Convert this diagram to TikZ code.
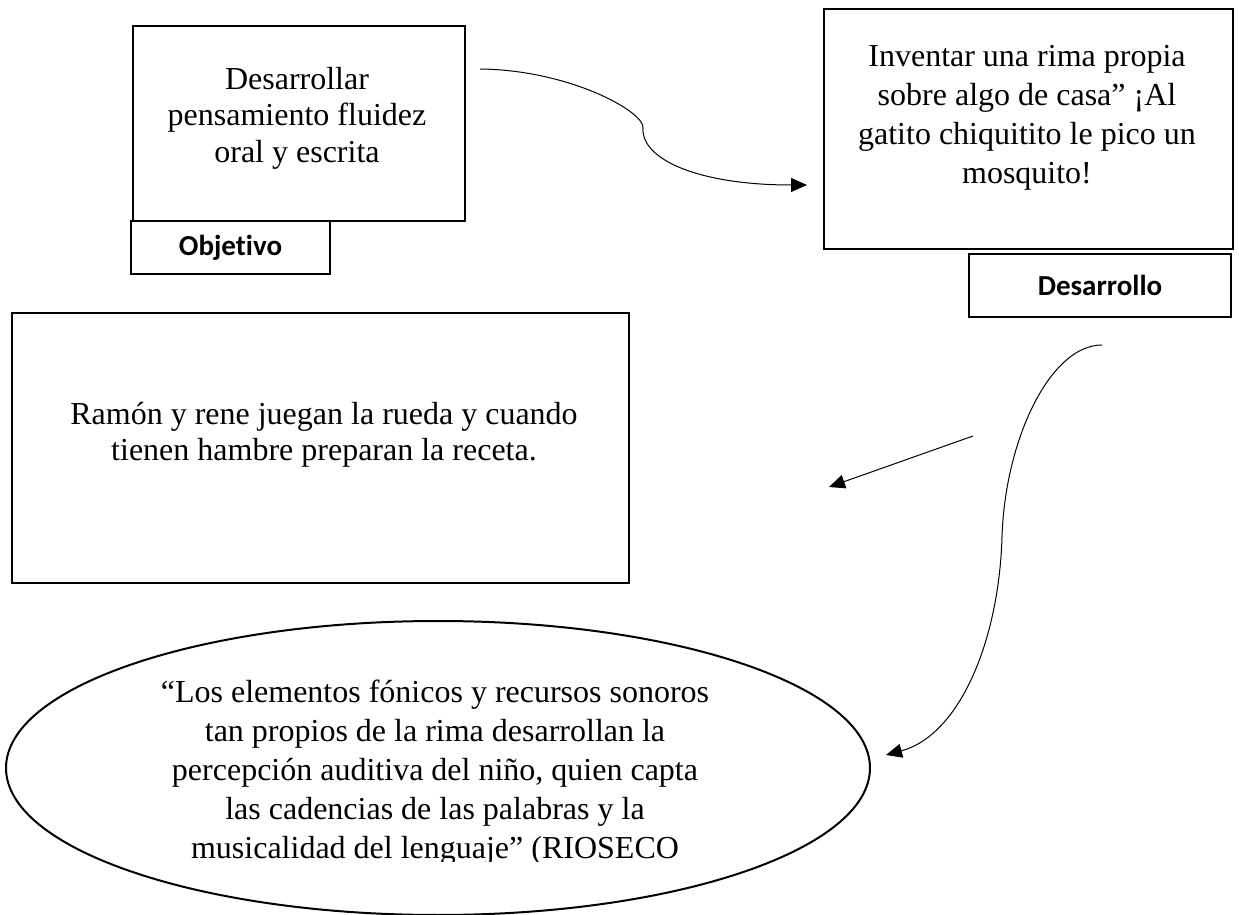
\documentclass[tikz,border=0pt]{standalone}
\usepackage{fontspec}
\setmainfont{Liberation Serif}
\newfontfamily\lblfont{Carlito}[Ligatures=NoCommon]
\usetikzlibrary{shapes.geometric,arrows.meta}
\begin{document}
\begin{tikzpicture}[x=0.5pt,y=-0.5pt,
  box/.style={draw, line width=1pt, inner sep=0pt, fill=white, anchor=north west},
  lbl/.style={draw, line width=1pt, inner sep=0pt, fill=white, anchor=north west,
    font=\lblfont\bfseries\fontsize{14.5pt}{17pt}\selectfont},
  txt/.style={align=center, inner sep=0pt},
  conn/.style={line width=0.5pt, -{Triangle[length=8pt,width=7pt]}}]
\useasboundingbox (0,0) rectangle (1239,915);

% boxes
\node[box, minimum width=166pt, minimum height=97.5pt] (objbox) at (132,25) {};
\node[lbl, minimum width=99.5pt, minimum height=26.5pt] (objlbl) at (130,220) {Objetivo};
\node[box, minimum width=204.5pt, minimum height=120pt] (desbox) at (823,8) {};
\node[lbl, minimum width=131pt, minimum height=31.5pt] (deslbl) at (968,253) {Desarrollo};
\node[box, minimum width=308.5pt, minimum height=135pt] (ramon) at (11,312) {};
\node[draw, line width=1pt, ellipse, inner sep=0pt, minimum width=432pt, minimum height=147pt] (cita) at (438,768) {};

% texts
\node[txt, font=\fontsize{16pt}{18.25pt}\selectfont] (objtxt) at (297,118) {Desarrollar\\pensamiento fluidez\\oral y escrita};
\node[txt, font=\fontsize{16pt}{19.5pt}\selectfont] (destxt) at (1027,118) {Inventar una rima propia\\sobre algo de casa” ¡Al\\gatito chiquitito le pico un\\mosquito!};
\node[txt, font=\fontsize{16pt}{18pt}\selectfont] (ramontxt) at (324,435) {Ramón y rene juegan la rueda y cuando\\tienen hambre preparan la receta.};
\begin{scope}
\clip (0,600) rectangle (1239,861);
\node[txt, font=\fontsize{16pt}{19.5pt}\selectfont] (citatxt) at (435,773) {“Los elementos fónicos y recursos sonoros\\tan propios de la rima desarrollan la\\percepción auditiva del niño, quien capta\\las cadencias de las palabras y la\\musicalidad del lenguaje” (RIOSECO};
\end{scope}

% connectors
\coordinate (a1s) at (480,69);
\coordinate (a1m) at (643,128);
\coordinate (a1e) at (807,185);
\draw[conn] (a1s) .. controls (570,70) and (645,112) .. (a1m) .. controls (641,160) and (700,185) .. (a1e);

\coordinate (a2s) at (973,436);
\coordinate (a2e) at (829,487);
\draw[conn] (a2s) -- (a2e);

\coordinate (a3s) at (1102,345);
\coordinate (a3m) at (1002,537);
\coordinate (a3e) at (886,755);
\draw[conn] (a3s) .. controls (1050,345) and (1005,440) .. (a3m) .. controls (999,640) and (960,735) .. (a3e);
\end{tikzpicture}
\end{document}
